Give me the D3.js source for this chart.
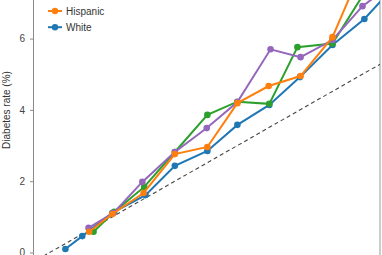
<!DOCTYPE html>
<html>
<head>
<meta charset="utf-8">
<script src="https://cdn.jsdelivr.net/npm/d3@7"></script>
<style>
  body { margin: 0; background: #fff; }
  svg { display: block; font-family: "Liberation Sans", Arial, sans-serif; }
</style>
</head>
<body>
<svg id="chart" width="382" height="255"></svg>
<script>
const whiteX = [0.25, 0.52, 1.0, 1.53, 2.0, 2.52, 3.0, 3.51, 4.0, 4.52, 5.03, 5.5];
const whiteY = [0.10, 0.46, 1.11, 1.61, 2.43, 2.85, 3.58, 4.14, 4.92, 5.82, 6.55, 7.45];
const purpleX = [0.62, 1.02, 1.48, 2.0, 2.51, 3.0, 3.53, 4.01, 4.52, 5.0, 5.5];
const purpleY = [0.69, 1.11, 1.98, 2.82, 3.49, 4.22, 5.70, 5.48, 5.96, 6.91, 7.56];
const greenX = [0.70, 1.03, 1.51, 2.0, 2.52, 3.0, 3.51, 3.96, 4.52, 5.0];
const greenY = [0.58, 1.14, 1.84, 2.82, 3.86, 4.23, 4.17, 5.76, 5.86, 7.2];
const hispanicX = [0.63, 1.0, 1.5, 2.0, 2.52, 3.0, 3.5, 4.01, 4.52, 5.0];
const hispanicY = [0.58, 1.08, 1.67, 2.76, 2.96, 4.19, 4.67, 4.95, 6.04, 8.0];
const yTicks = [0, 2, 4, 6];

const series = [
    { name: "White", x: whiteX, y: whiteY, color: "#1f77b4" },
    { name: "", x: greenX, y: greenY, color: "#2ca02c" },
    { name: "", x: purpleX, y: purpleY, color: "#9467bd" },
    { name: "Hispanic", x: hispanicX, y: hispanicY, color: "#ff7f0e" }
];
const legendItems = [series[3], series[0]];

const svg = d3.select("#chart");
const x = d3.scaleLinear().domain([-0.26, 5.28]).range([33.5, 380]);
const y = d3.scaleLinear().domain([0, 6]).range([252.5, 38.6]);

svg.append("defs").append("clipPath")
    .attr("id", "plotClip")
    .append("rect")
    .attr("x", 34).attr("y", -50)
    .attr("width", 346).attr("height", 310);

// y axis
const yAxis = svg.append("g")
    .attr("transform", `translate(${x(-0.26)},0)`)
    .call(d3.axisLeft(y).tickValues(yTicks).tickFormat(d3.format("d")).tickSize(3.5).tickPadding(5));
yAxis.select(".domain").remove();
yAxis.append("line")
    .attr("y1", -5).attr("y2", 260)
    .attr("stroke", "#8a8a8a").attr("stroke-width", 1);
yAxis.selectAll(".tick line").attr("stroke", "#8a8a8a");
yAxis.selectAll(".tick text")
    .attr("fill", "#444")
    .style("font-size", "10px")
    .style("font-family", "Liberation Sans, Arial, sans-serif");

svg.append("text")
    .attr("transform", "translate(6,110) rotate(-90)")
    .attr("text-anchor", "middle")
    .attr("dominant-baseline", "central")
    .attr("fill", "#333")
    .style("font-size", "10px")
    .text("Diabetes rate (%)");

// right frame line
svg.append("line")
    .attr("x1", 380).attr("x2", 380)
    .attr("y1", 0).attr("y2", 255)
    .attr("stroke", "#999").attr("stroke-width", 1);

const plot = svg.append("g").attr("clip-path", "url(#plotClip)");

// reference y = x
plot.append("line")
    .attr("x1", x(-0.1)).attr("y1", y(-0.1))
    .attr("x2", x(5.3)).attr("y2", y(5.3))
    .attr("stroke", "#444")
    .attr("stroke-width", 1.1)
    .attr("stroke-dasharray", "4,3");

const line = d3.line().x(d => x(d[0])).y(d => y(d[1]));

series.forEach(s => {
    const pts = s.x.map((v, i) => [v, s.y[i]]);
    const g = plot.append("g");
    g.append("path")
        .datum(pts)
        .attr("d", line)
        .attr("fill", "none")
        .attr("stroke", s.color)
        .attr("stroke-width", 2);
    g.selectAll("circle")
        .data(pts)
        .join("circle")
        .attr("cx", d => x(d[0]))
        .attr("cy", d => y(d[1]))
        .attr("r", 3.3)
        .attr("fill", s.color);
});

// legend
const legend = svg.append("g").attr("transform", "translate(48,11)");
legendItems.forEach((s, i) => {
    const row = legend.append("g").attr("transform", `translate(0,${i * 16.2})`);
    row.append("line")
        .attr("x1", 0).attr("x2", 14)
        .attr("stroke", s.color).attr("stroke-width", 2);
    row.append("circle")
        .attr("cx", 7).attr("r", 3.2)
        .attr("fill", s.color);
    row.append("text")
        .attr("x", 18)
        .attr("dominant-baseline", "central")
        .attr("fill", "#333")
        .style("font-size", "10px")
        .text(s.name);
});
</script>
</body>
</html>
